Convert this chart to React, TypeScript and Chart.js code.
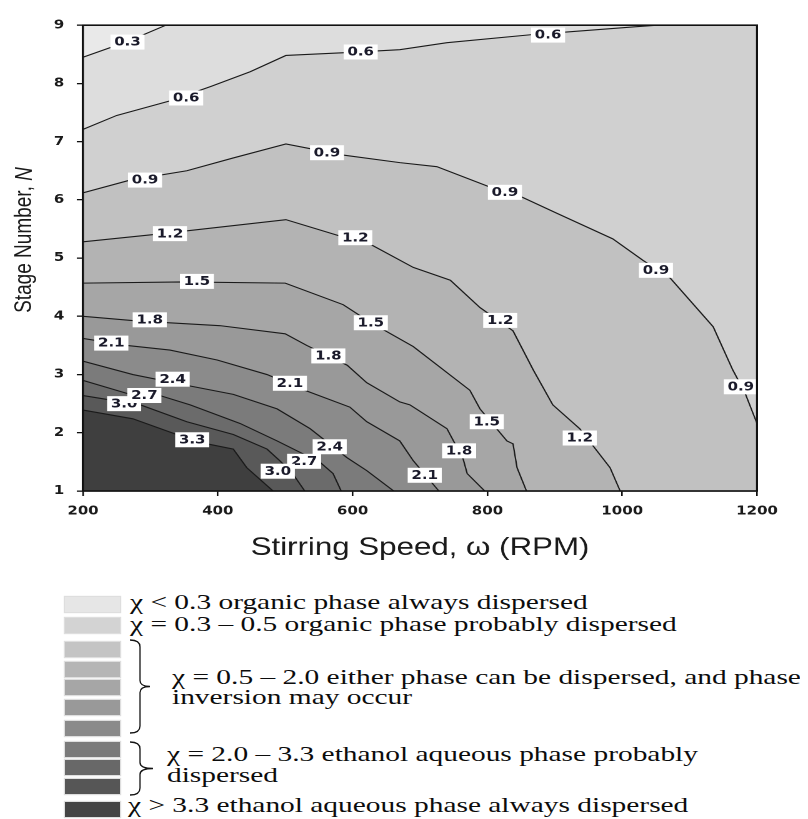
import React, { useEffect, useRef } from "react";
import { Chart, registerables } from "chart.js";

Chart.register(...registerables);

// ---------- data ----------
const xRange = [200, 1200];
const yRange = [1, 9];
const xTickValues = [200, 400, 600, 800, 1000, 1200];
const yTickValues = [1, 2, 3, 4, 5, 6, 7, 8, 9];

// contour lines (stirring speed RPM, stage number)
const contour03 = [[200, 8.45], [266, 8.72], [323, 9.0]];
const contour06 = [[200, 7.21], [250, 7.45], [329, 7.7], [390, 7.95], [448, 8.2], [501, 8.48], [592, 8.53], [670, 8.58], [740, 8.7], [868, 8.84], [1016, 8.97], [1052, 9.0]];
const contour09 = [[200, 6.12], [270, 6.34], [354, 6.5], [423, 6.72], [501, 6.96], [586, 6.77], [670, 6.64], [725, 6.57], [804, 6.22], [851, 6.05], [903, 5.77], [986, 5.33], [1031, 4.96], [1071, 4.66], [1135, 3.82], [1164, 3.08], [1182, 2.69], [1200, 2.16]];
const contour12 = [[200, 5.28], [310, 5.41], [501, 5.66], [581, 5.38], [626, 5.24], [690, 4.84], [745, 4.62], [789, 4.15], [838, 3.75], [868, 3.08], [897, 2.48], [937, 2.07], [982, 1.4], [997, 1.0]];
const contour15 = [[200, 4.57], [348, 4.59], [500, 4.57], [586, 4.2], [626, 3.9], [690, 3.48], [774, 2.73], [789, 2.41], [829, 1.86], [838, 1.81], [844, 1.4], [858, 1.0]];
const contour18 = [[200, 4.0], [280, 3.92], [403, 3.84], [500, 3.7], [532, 3.5], [592, 3.16], [621, 2.86], [670, 2.53], [685, 2.48], [740, 2.07], [764, 1.55], [770, 1.3], [796, 1.0]];
const contour21 = [[200, 3.62], [265, 3.5], [329, 3.42], [399, 3.25], [473, 3.0], [529, 2.73], [596, 2.44], [621, 2.19], [670, 1.86], [690, 1.52], [728, 1.0]];
const contour24 = [[200, 3.23], [274, 3.0], [356, 2.81], [423, 2.66], [488, 2.41], [537, 2.07], [592, 1.57], [621, 1.35], [661, 1.0]];
const contour27 = [[200, 2.9], [270, 2.66], [314, 2.64], [359, 2.48], [433, 2.16], [488, 1.86], [552, 1.49], [571, 1.3], [583, 1.0]];
const contour30 = [[200, 2.64], [285, 2.48], [354, 2.19], [423, 1.97], [473, 1.72], [492, 1.52], [511, 1.3], [529, 1.0]];
const contour33 = [[200, 2.39], [274, 2.24], [339, 1.97], [384, 1.81], [423, 1.72], [443, 1.4], [482, 1.0]];

const contours = [contour03, contour06, contour09, contour12, contour15, contour18, contour21, contour24, contour27, contour30, contour33];

// fill colours: region below 0.3, then above each level
const regionColors = ["#e9e9e9", "#dddddd", "#d0d0d0", "#c1c1c1", "#b3b3b3", "#a6a6a6", "#999999", "#8b8b8b", "#7b7b7b", "#6b6b6b", "#595959", "#3f3f3f"];

// contour labels
const labelText = ["0.3", "0.6", "0.6", "0.6", "0.9", "0.9", "0.9", "0.9", "0.9", "1.2", "1.2", "1.2", "1.2", "1.5", "1.5", "1.5", "1.8", "1.8", "1.8", "2.1", "2.1", "2.1", "2.4", "2.4", "3.0", "2.7", "2.7", "3.0", "3.3"];
const labelSpeed = [266, 353, 612, 890, 292, 562, 826, 1050, 1176, 329, 604, 819, 937, 369, 627, 799, 299, 564, 758, 242, 507, 707, 333, 566, 261, 291, 528, 489, 362];
const labelStage = [8.71, 7.75, 8.54, 8.83, 6.34, 6.81, 6.13, 4.79, 2.79, 5.42, 5.35, 3.93, 1.91, 4.6, 3.89, 2.19, 3.94, 3.32, 1.69, 3.54, 2.85, 1.27, 2.92, 1.76, 2.5, 2.64, 1.51, 1.34, 1.88];

// legend
const legendSwatches = ["#e6e6e6", "#d3d3d3", "#c4c4c4", "#b5b5b5", "#a6a6a6", "#999999", "#8a8a8a", "#7a7a7a", "#686868", "#565656", "#444444"];
const legendLines = [
  "χ < 0.3 organic phase always dispersed",
  "χ = 0.3 – 0.5 organic phase probably dispersed",
  "χ = 0.5 – 2.0 either phase can be dispersed, and phase",
  "inversion may occur",
  "χ = 2.0 – 3.3 ethanol aqueous phase probably",
  "dispersed",
  "χ > 3.3 ethanol aqueous phase always dispersed",
];

// ---------- layout (page px minus body margin) ----------
const swatchTops = [589, 610, 634, 654, 672, 692, 713, 734, 752, 771, 794];
const lineLefts = [122, 122, 164, 164, 159, 159, 120];
const lineBaselines = [602, 624, 677, 697, 754, 775, 805];

function regionPolygon(line: number[][]) {
  const [x0, x1] = xRange;
  const [y0, y1] = yRange;
  const pts = line.map(([x, y]) => ({ x, y }));
  const last = line[line.length - 1];
  if (last[1] >= y1) {
    pts.push({ x: x1, y: y1 }, { x: x1, y: y0 });
  } else if (last[0] >= x1) {
    pts.push({ x: x1, y: y0 });
  }
  pts.push({ x: x0, y: y0 });
  return pts;
}

const labelPlugin = {
  id: "contourLabels",
  afterDatasetsDraw(chart: any) {
    const { ctx, chartArea, scales } = chart;
    const xs = scales.x;
    const ys = scales.y;
    ctx.save();
    ctx.beginPath();
    ctx.rect(chartArea.left, chartArea.top, chartArea.right - chartArea.left, chartArea.bottom - chartArea.top);
    ctx.clip();
    ctx.font = "bold 12px 'DejaVu Sans', sans-serif";
    ctx.textAlign = "center";
    ctx.textBaseline = "middle";
    labelText.forEach((t, i) => {
      const px = xs.getPixelForValue(labelSpeed[i]);
      const py = ys.getPixelForValue(labelStage[i]);
      const w = ctx.measureText(t).width + 6;
      const h = 15;
      ctx.fillStyle = "#ffffff";
      ctx.fillRect(px - w / 2, py - h / 2, w, h);
      ctx.fillStyle = "#1a1a2a";
      ctx.fillText(t, px, py + 0.5);
    });
    ctx.restore();
    // frame
    ctx.save();
    ctx.strokeStyle = "#111";
    ctx.lineWidth = 1.6;
    ctx.strokeRect(chartArea.left, chartArea.top, chartArea.right - chartArea.left, chartArea.bottom - chartArea.top);
    ctx.restore();
  },
  afterDraw(chart: any) {
    const { ctx } = chart;
    ctx.save();
    ctx.translate(13.5, 232);
    ctx.rotate(-Math.PI / 2);
    ctx.textBaseline = "middle";
    ctx.fillStyle = "#1a1a1a";
    const a = "Stage Number, ";
    const b = "N";
    ctx.font = "19px 'Liberation Sans', Arial, sans-serif";
    const wa = ctx.measureText(a).width;
    ctx.font = "italic 19px 'Liberation Sans', Arial, sans-serif";
    const wb = ctx.measureText(b).width;
    const start = -(wa + wb) / 2;
    ctx.textAlign = "left";
    ctx.font = "19px 'Liberation Sans', Arial, sans-serif";
    ctx.fillText(a, start, 0);
    ctx.font = "italic 19px 'Liberation Sans', Arial, sans-serif";
    ctx.fillText(b, start + wa, 0);
    ctx.restore();
  },
};

export default function App() {
  const ref = useRef<HTMLCanvasElement>(null);

  useEffect(() => {
    const canvas = ref.current;
    if (!canvas) return;
    const [x0, x1] = xRange;
    const [y0, y1] = yRange;
    const datasets: any[] = [];
    datasets.push({
      data: [{ x: x0, y: y0 }, { x: x0, y: y1 }, { x: x1, y: y1 }, { x: x1, y: y0 }],
      showLine: true,
      fill: "shape",
      backgroundColor: regionColors[0],
      borderWidth: 0,
      pointRadius: 0,
      order: 100,
    });
    contours.forEach((c, i) => {
      datasets.push({
        data: regionPolygon(c),
        showLine: true,
        fill: "shape",
        backgroundColor: regionColors[i + 1],
        borderColor: regionColors[i + 1],
        borderWidth: 0,
        pointRadius: 0,
        order: 50 - i,
      });
    });
    contours.forEach((c) => {
      datasets.push({
        data: c.map(([x, y]) => ({ x, y })),
        showLine: true,
        fill: false,
        borderColor: "#1a1a1a",
        borderWidth: 1.1,
        pointRadius: 0,
        order: 0,
      });
    });

    const tickFont = { family: "'DejaVu Sans', sans-serif", size: 12, weight: "bold" as const };
    const chart = new Chart(canvas, {
      type: "scatter",
      data: { datasets },
      options: {
        animation: false,
        responsive: false,
        devicePixelRatio: 2,
        events: [],
        layout: { padding: { top: 6, right: 40.8, bottom: 0, left: 0 } },
        plugins: { legend: { display: false }, tooltip: { enabled: false } },
        elements: { line: { tension: 0 } },
        scales: {
          x: {
            type: "linear",
            min: x0,
            max: x1,
            afterBuildTicks: (s: any) => {
              s.ticks = xTickValues.map((v) => ({ value: v }));
            },
            afterFit: (s: any) => {
              s.height = 77;
            },
            grid: { drawOnChartArea: false, drawTicks: true, tickLength: 5, color: "#111", lineWidth: 1.3 },
            border: { display: true, color: "#111", width: 1.6 },
            ticks: {
              font: tickFont,
              color: "#1a1a1a",
              padding: 8,
              maxRotation: 0,
              autoSkip: false,
              callback: (v: any) => String(v),
            },
            title: {
              display: true,
              text: "Stirring Speed, ω (RPM)",
              font: { family: "'Liberation Sans', Arial, sans-serif", size: 25 },
              color: "#1a1a1a",
              padding: { top: 0, bottom: 5 },
            },
          },
          y: {
            type: "linear",
            min: y0,
            max: y1,
            afterBuildTicks: (s: any) => {
              s.ticks = yTickValues.map((v) => ({ value: v }));
            },
            afterFit: (s: any) => {
              s.width = 60;
            },
            grid: { drawOnChartArea: false, drawTicks: true, tickLength: 5, color: "#111", lineWidth: 1.3 },
            border: { display: true, color: "#111", width: 1.6 },
            ticks: { font: tickFont, color: "#1a1a1a", padding: 10, autoSkip: false, callback: (v: any) => String(v) },
          },
        },
      },
      plugins: [labelPlugin],
    });
    return () => chart.destroy();
  }, []);

  const serif = "'Liberation Serif', 'Times New Roman', serif";
  const bracePath = (x0: number, x1: number, x2: number, top: number, bottom: number) => {
    const mid = (top + bottom) / 2;
    return `M ${x0} ${top} Q ${x1} ${top} ${x1} ${top + 7} L ${x1} ${mid - 6} Q ${x1} ${mid} ${x2} ${mid} Q ${x1} ${mid} ${x1} ${mid + 6} L ${x1} ${bottom - 7} Q ${x1} ${bottom} ${x0} ${bottom}`;
  };

  return (
    <div style={{ position: "relative", width: 800, height: 811, overflow: "hidden" }}>
      <div style={{ position: "absolute", left: 0, top: 0, width: 640, height: 560, transform: "scaleX(1.25)", transformOrigin: "0 0" }}>
        <canvas ref={ref} width={640} height={560} style={{ display: "block", width: 640, height: 560 }} />
      </div>
      {legendSwatches.map((c, i) => (
        <div
          key={"s" + i}
          style={{ position: "absolute", left: 57, top: swatchTops[i], width: 55, height: 15, background: c, boxShadow: "0 0 1px 1px rgba(200,200,200,0.6)" }}
        />
      ))}
      {legendLines.map((t, i) => (
        <div
          key={"t" + i}
          style={{
            position: "absolute",
            left: lineLefts[i],
            top: lineBaselines[i] - 17.6,
            fontFamily: serif,
            fontSize: 21,
            lineHeight: "21px",
            whiteSpace: "nowrap",
            color: "#0c0c0c",
            transform: "scaleX(1.4)",
            transformOrigin: "0 0",
          }}
        >
          {t}
        </div>
      ))}
      <svg style={{ position: "absolute", left: 0, top: 0 }} width={800} height={811}>
        <path d={bracePath(122, 132, 142, 632, 725)} stroke="#141414" strokeWidth={1.3} fill="none" />
        <path d={bracePath(122, 132, 145, 734, 787)} stroke="#141414" strokeWidth={1.3} fill="none" />
      </svg>
    </div>
  );
}
